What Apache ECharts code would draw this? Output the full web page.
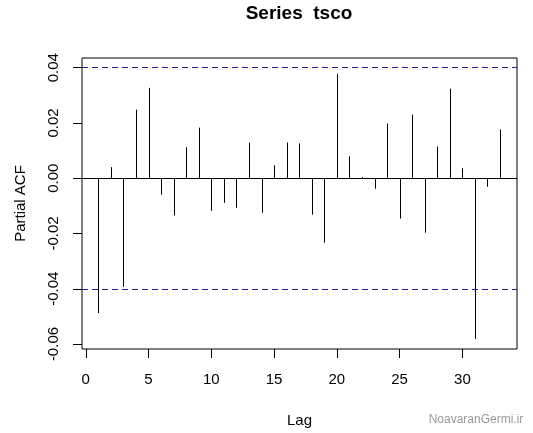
<!DOCTYPE html>
<html>
<head>
<meta charset="utf-8">
<script src="https://cdn.jsdelivr.net/npm/echarts@6/dist/echarts.min.js"></script>
<style>
  html, body { margin: 0; padding: 0; background: #fff; }
  #chart { width: 533px; height: 433px; }
</style>
</head>
<body>
<div id="chart"></div>
<script>
// partial autocorrelation of tsco, lags 1..33
const lags = [1, 2, 3, 4, 5, 6, 7, 8, 9, 10, 11, 12, 13, 14, 15, 16, 17,
  18, 19, 20, 21, 22, 23, 24, 25, 26, 27, 28, 29, 30, 31, 32, 33];
const pacf = [-0.0488, 0.0040, -0.0393, 0.0248, 0.0327, -0.0060, -0.0135, 0.0112, 0.0183,
  -0.0118, -0.0089, -0.0107, 0.0129, -0.0125, 0.0047, 0.0129, 0.0126,
  -0.0132, -0.0233, 0.0378, 0.0079, 0.0004, -0.0038, 0.0198, -0.0146, 0.0230,
  -0.0197, 0.0115, 0.0324, 0.0036, -0.0582, -0.0031, 0.0176];
const ciLimit = 0.0394;
const xTicks = [0, 5, 10, 15, 20, 25, 30];
const yTicks = [-0.06, -0.04, -0.02, 0, 0.02, 0.04];

const font = 'Liberation Sans, Arial, sans-serif';

const chart = echarts.init(document.getElementById('chart'));

chart.setOption({
  animation: false,
  backgroundColor: '#fff',
  textStyle: { fontFamily: font },
  graphic: [
    {
      type: 'text',
      x: 299,
      y: 14,
      style: {
        text: 'Series  tsco',
        font: 'bold 19px ' + font,
        fill: '#000',
        textAlign: 'center',
        textVerticalAlign: 'middle',
      },
    },
    {
      type: 'text',
      x: 476,
      y: 420,
      style: {
        text: 'NoavaranGermi.ir',
        font: '12px ' + font,
        fill: '#9a9a9a',
        textAlign: 'center',
        textVerticalAlign: 'middle',
      },
    },
  ],
  grid: {
    left: 82,
    right: 16,
    top: 58,
    bottom: 82,
    show: true,
    borderColor: '#000',
    borderWidth: 1,
  },
  xAxis: {
    type: 'value',
    min: -0.3,
    max: 34.35,
    name: 'Lag',
    nameLocation: 'middle',
    nameGap: 64,
    nameTextStyle: { fontSize: 15, color: '#000', fontFamily: font },
    splitLine: { show: false },
    axisLine: { show: false, onZero: false },
    axisTick: {
      show: true,
      length: 9,
      customValues: xTicks,
      lineStyle: { color: '#000' },
    },
    axisLabel: {
      customValues: xTicks,
      margin: 23,
      fontSize: 15,
      color: '#000',
      fontFamily: font,
    },
  },
  yAxis: {
    type: 'value',
    min: -0.0618,
    max: 0.0435,
    name: 'Partial ACF',
    nameLocation: 'middle',
    nameGap: 54,
    nameRotate: 90,
    nameTextStyle: { fontSize: 15, color: '#000', fontFamily: font },
    splitLine: { show: false },
    axisLine: { show: false, onZero: false },
    axisTick: {
      show: true,
      length: 9,
      customValues: yTicks,
      lineStyle: { color: '#000' },
    },
    axisLabel: {
      customValues: yTicks,
      rotate: 90,
      margin: 21,
      fontSize: 15,
      color: '#000',
      fontFamily: font,
      formatter: (v) => v.toFixed(2),
    },
  },
  series: [
    {
      type: 'custom',
      data: lags.map((lag, i) => [lag, pacf[i]]),
      renderItem: (params, api) => {
        const p0 = api.coord([api.value(0), 0]);
        const p1 = api.coord([api.value(0), api.value(1)]);
        const x = Math.round(p0[0]) + 0.5;
        return {
          type: 'line',
          shape: { x1: x, y1: p0[1], x2: x, y2: p1[1] },
          style: { stroke: '#000', lineWidth: 1 },
        };
      },
      markLine: {
        silent: true,
        symbol: 'none',
        label: { show: false },
        lineStyle: { color: '#000', type: 'solid', width: 1 },
        data: [{ yAxis: 0 }],
      },
    },
    {
      type: 'line',
      data: [],
      markLine: {
        silent: true,
        symbol: 'none',
        label: { show: false },
        lineStyle: { color: '#1c1c8c', type: [6, 4], width: 1 },
        data: [{ yAxis: ciLimit }, { yAxis: -ciLimit }],
      },
    },
  ],
});
</script>
</body>
</html>
